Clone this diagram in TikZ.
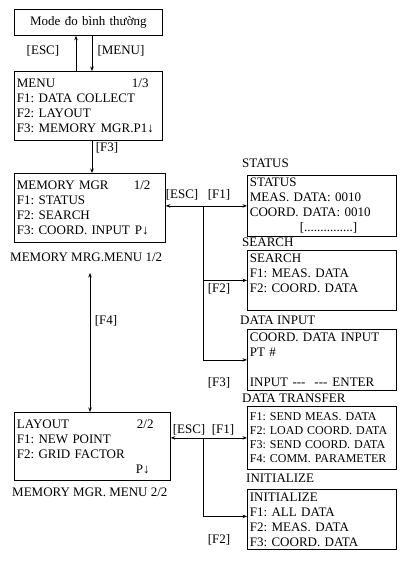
\documentclass[tikz,border=0pt]{standalone}
\usepackage{fontspec}
\setmainfont{Liberation Serif}
\usetikzlibrary{arrows.meta}
\frenchspacing
\begin{document}
\begin{tikzpicture}[x=1pt, y=-1pt,
    font=\fontsize{13}{15}\selectfont,
    screen/.style={draw, line width=0.8pt, anchor=north west, align=left,
      inner xsep=2.5pt, inner ysep=1pt},
    title/.style={anchor=west, inner sep=0pt},
    key/.style={inner sep=0pt},
    tip/.tip={Stealth[length=4.5pt, width=3.5pt]},
    link/.style={line width=0.8pt, -tip},
    both/.style={line width=0.8pt, tip-tip}]
  \useasboundingbox (0,0) rectangle (411,563);
  \node[screen, align=center, text width=143pt, minimum height=26pt] (mode) at (14,9) {Mode đo bình thường};
  \node[screen, text width=143pt, minimum height=69pt] (menu) at (14,71)
    {\makebox[115pt][l]{MENU}1/3\\F1: DATA COLLECT\\F2: LAYOUT\\F3: MEMORY MGR.P1↓};
  \node[screen, text width=146pt, minimum height=69pt] (mgr) at (14,173)
    {\makebox[117pt][l]{MEMORY MGR}1/2\\F1: STATUS\\F2: SEARCH\\F3: COORD. INPUT\hspace{5pt}P↓};
  \node[title] (cap1) at (10,257) {MEMORY MRG.MENU 1/2};
  \node[screen, text width=151pt, minimum height=68pt] (layout) at (14,412)
    {\makebox[120pt][l]{LAYOUT}2/2\\F1: NEW POINT\\F2: GRID FACTOR\\\hspace*{119pt}P↓};
  \node[title] (cap2) at (12,492) {MEMORY MGR. MENU 2/2};
  \node[title] (hstatus) at (242,163) {STATUS};
  \node[screen, text width=144pt, minimum height=61pt] (status) at (247,175)
    {STATUS\\MEAS. DATA: 0010\\COORD. DATA: 0010\\\hspace*{50pt}[...............]};
  \node[title] (hsearch) at (242,242) {SEARCH};
  \node[screen, text width=144pt, minimum height=60pt] (search) at (247,250)
    {SEARCH\\F1: MEAS. DATA\\F2: COORD. DATA\\\mbox{}};
  \node[title] (hinput) at (240,320) {DATA INPUT};
  \node[screen, text width=144pt, minimum height=61pt] (input) at (247,329)
    {COORD. DATA INPUT\\PT \#\\\mbox{}\\INPUT -{}-{}-\hspace{9pt}-{}-{}-\hspace{5pt}ENTER};
  \node[title] (htransfer) at (242,398) {DATA TRANSFER};
  \node[screen, text width=144pt, minimum height=63pt, font=\fontsize{12}{14}\selectfont] (transfer) at (247,406)
    {F1: SEND MEAS. DATA\\F2: LOAD COORD. DATA\\F3: SEND COORD. DATA\\F4: COMM. PARAMETER};
  \node[title] (hinit) at (246,478) {INITIALIZE};
  \node[screen, text width=144pt, minimum height=60pt] (init) at (247,489)
    {INITIALIZE\\F1: ALL DATA\\F2: MEAS. DATA\\F3: COORD. DATA};
  \node[key] (kesc1) at (43,51) {[ESC]};
  \node[key] (kmenu) at (121,51) {[MENU]};
  \node[key] (kf3a) at (107,148) {[F3]};
  \node[key] (kesc2) at (182,195) {[ESC]};
  \node[key] (kf1a) at (219,195) {[F1]};
  \node[key] (kf2a) at (219,289) {[F2]};
  \node[key] (kf3b) at (219,383) {[F3]};
  \node[key] (kf4) at (106,321) {[F4]};
  \node[key] (kesc3) at (189,430) {[ESC]};
  \node[key] (kf1b) at (223,430) {[F1]};
  \node[key] (kf2b) at (219,540) {[F2]};
  \draw[link] ([xshift=62pt]menu.north west) -- ([xshift=62pt]mode.south west);
  \draw[link] ([xshift=78pt]mode.south west) -- ([xshift=78pt]menu.north west);
  \draw[link] ([xshift=78pt]menu.south west) -- ([xshift=78pt]mgr.north west);
  \draw[both] (status.west -| mgr.east) -- (status.west);
  \path (status.west) ++(-44,0) coordinate (j1);
  \draw[link] (j1) |- (search.west);
  \draw[link] (j1) |- (input.west);
  \coordinate (f4) at (90,273);
  \draw[both] (f4) -- (f4 |- layout.north);
  \draw[both] (transfer.west -| layout.east) -- (transfer.west);
  \path (transfer.west) ++(-44,0) coordinate (j2);
  \draw[link] (j2) |- ([yshift=3pt]init.west);
\end{tikzpicture}
\end{document}
